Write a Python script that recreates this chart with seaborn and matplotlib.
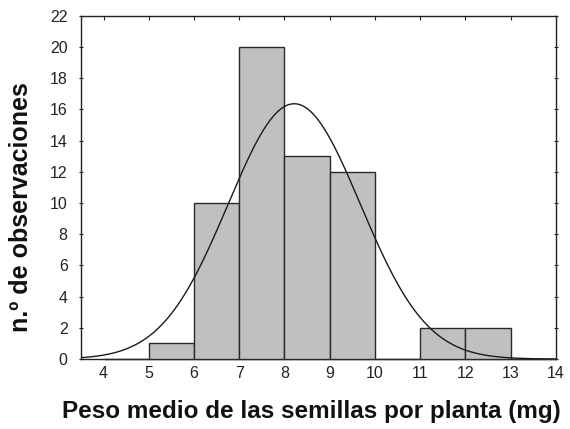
import numpy as np
import pandas as pd
import matplotlib
matplotlib.use("Agg")
import matplotlib.pyplot as plt
import seaborn as sns

# Data: histogram bins (mg) and counts
bin_edges = [4, 5, 6, 7, 8, 9, 10, 11, 12, 13, 14]
counts = [0, 1, 10, 20, 13, 12, 0, 2, 2, 0]
x_ticks = [4, 5, 6, 7, 8, 9, 10, 11, 12, 13, 14]
y_ticks = [0, 2, 4, 6, 8, 10, 12, 14, 16, 18, 20, 22]

sns.set_theme(style="white")
plt.rcParams['font.family'] = ['Liberation Sans', 'DejaVu Sans']

mids = [(a + b) / 2 for a, b in zip(bin_edges[:-1], bin_edges[1:])]
df = pd.DataFrame({"peso": mids, "n": counts})

fig = plt.figure(figsize=(5.7, 4.29), dpi=100)
ax = fig.add_axes([0.142, 0.163, 0.833, 0.800])

sns.histplot(data=df, x="peso", weights="n", bins=bin_edges, ax=ax,
             color="#c0c0c0", edgecolor="#2a2a2a", linewidth=1.0, alpha=1.0)
for p in ax.patches:
    p.set_zorder(3)
    p.set_clip_on(False)

# Fitted normal curve from the binned data
m = np.array(mids); c = np.array(counts)
n = c.sum()
mean = (m * c).sum() / n
sd = np.sqrt(((m - mean) ** 2 * c).sum() / (n - 1))
xs = np.linspace(3.5, 14, 400)
ys = n * 1.0 * np.exp(-0.5 * ((xs - mean) / sd) ** 2) / (sd * np.sqrt(2 * np.pi))
sns.lineplot(x=xs, y=ys, ax=ax, color="#1a1a1a", linewidth=1.0, zorder=4)

ax.set_xlim(3.5, 14)
ax.set_ylim(0, 22)
ax.set_xticks(x_ticks)
ax.set_yticks(y_ticks)
ax.tick_params(axis="both", labelsize=11.5, colors="#222222", length=3, width=0.8)
ax.tick_params(axis="x", bottom=False, top=True, direction="in", pad=5)
ax.tick_params(axis="y", left=True, right=True, direction="inout", pad=8)
for s in ax.spines.values():
    s.set_color("#222222")
    s.set_linewidth(1.0)

ax.set_xlabel("Peso medio de las semillas por planta (mg)", fontsize=17.5,
              fontweight="bold", color="#111111")
ax.set_ylabel("n.º de observaciones", fontsize=18, fontweight="bold",
              color="#111111")
ax.xaxis.set_label_coords(0.485, -0.118)
ax.yaxis.set_label_coords(-0.1, 0.442)

fig.savefig("out.png", dpi=100)
